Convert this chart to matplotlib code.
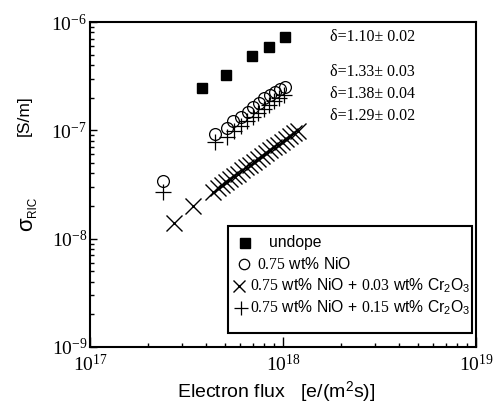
import matplotlib
matplotlib.use('Agg')
import numpy as np
import matplotlib.pyplot as plt
from matplotlib.ticker import LogLocator, FuncFormatter, NullFormatter
from matplotlib.patches import Rectangle
from matplotlib.lines import Line2D

plt.rcParams['font.family'] = ['Liberation Sans', 'DejaVu Sans']
plt.rcParams['mathtext.fontset'] = 'custom'
plt.rcParams['mathtext.rm'] = 'Liberation Serif'
plt.rcParams['mathtext.it'] = 'Liberation Serif:italic'
plt.rcParams['mathtext.sf'] = 'Liberation Sans'
plt.rcParams['mathtext.default'] = 'rm'

# ---- data ----
x_undope = [3.82e17, 5.07e17, 6.88e17, 8.43e17, 1.02e18]
y_undope = [2.44e-7, 3.24e-7, 4.85e-7, 5.91e-7, 7.31e-7]

x_nio = [2.39e17, 4.44e17, 5.11e17, 5.51e17, 6.06e17, 6.56e17, 7.02e17,
         7.51e17, 8.00e17, 8.57e17, 9.09e17, 9.65e17, 1.02e18]
y_nio = [3.40e-8, 9.34e-8, 1.05e-7, 1.21e-7, 1.34e-7, 1.49e-7, 1.65e-7,
         1.80e-7, 1.97e-7, 2.12e-7, 2.27e-7, 2.39e-7, 2.49e-7]

x_cr03 = [2.73e17, 3.43e17, 4.34e17, 4.61e17, 4.83e17, 5.07e17, 5.31e17,
          5.57e17, 5.84e17, 6.13e17, 6.43e17, 6.75e17, 7.08e17, 7.42e17,
          7.78e17, 8.16e17, 8.56e17, 8.98e17, 9.42e17, 9.88e17, 1.04e18,
          1.09e18, 1.14e18, 1.20e18]
y_cr03 = [1.40e-8, 1.99e-8, 2.69e-8, 2.93e-8, 3.13e-8, 3.33e-8, 3.55e-8,
          3.79e-8, 3.99e-8, 4.26e-8, 4.54e-8, 4.83e-8, 5.15e-8, 5.49e-8,
          5.79e-8, 6.17e-8, 6.58e-8, 7.01e-8, 7.39e-8, 7.88e-8, 8.40e-8,
          8.86e-8, 9.44e-8, 9.95e-8]

x_cr15 = [2.39e17, 4.44e17, 5.13e17, 5.57e17, 6.06e17, 6.51e17, 6.99e17,
          7.46e17, 7.97e17, 8.46e17, 8.98e17, 9.53e17, 1.01e18]
y_cr15 = [2.69e-8, 7.88e-8, 8.77e-8, 9.86e-8, 1.10e-7, 1.21e-7, 1.33e-7,
          1.45e-7, 1.57e-7, 1.71e-7, 1.85e-7, 1.97e-7, 2.10e-7]

labels = ['undope',
          '$0.75$ wt% NiO',
          '$0.75$ wt% NiO + $0.03$ wt% Cr$_{\\mathsf{2}}$O$_{\\mathsf{3}}$',
          '$0.75$ wt% NiO + $0.15$ wt% Cr$_{\\mathsf{2}}$O$_{\\mathsf{3}}$']
deltas = ['δ=1.10± 0.02', 'δ=1.33± 0.03', 'δ=1.38± 0.04', 'δ=1.29± 0.02']

W, H = 504, 412
fig = plt.figure(figsize=(W / 100, H / 100), dpi=100)
L, R, T, B = 90, 476, 22, 347
ax = fig.add_axes([L / W, 1 - B / H, (R - L) / W, (B - T) / H])
ax.set_xscale('log')
ax.set_yscale('log')
ax.set_xlim(1e17, 1e19)
ax.set_ylim(1e-9, 1e-6)

styles = [dict(marker='s', color='k', ms=7),
          dict(marker='o', mfc='none', mec='k', ms=8.5, mew=0.9),
          dict(marker='x', color='k', ms=11, mew=1.0),
          dict(marker='+', color='k', ms=11, mew=0.9)]
series = [(x_undope, y_undope), (x_nio, y_nio), (x_cr03, y_cr03), (x_cr15, y_cr15)]
for (xs, ys), st in zip(series, styles):
    ax.plot(xs, ys, ls='none', **st)

for s in ax.spines.values():
    s.set_linewidth(1.5)

ax.xaxis.set_major_locator(LogLocator(base=10, numticks=10))
ax.xaxis.set_minor_locator(LogLocator(base=10, subs=np.arange(2, 10), numticks=10))
ax.yaxis.set_major_locator(LogLocator(base=10, numticks=10))
ax.yaxis.set_minor_locator(LogLocator(base=10, subs=np.arange(2, 10), numticks=10))
fmt = FuncFormatter(lambda v, p: r'$10^{%d}$' % int(round(np.log10(v))))
ax.xaxis.set_major_formatter(fmt)
ax.yaxis.set_major_formatter(fmt)
ax.xaxis.set_minor_formatter(NullFormatter())
ax.yaxis.set_minor_formatter(NullFormatter())
ax.tick_params(which='both', direction='in', top=False, right=False, width=1.0)
ax.tick_params(axis='x', which='major', length=7, pad=5, labelsize=14)
ax.tick_params(axis='y', which='major', length=5, pad=2, labelsize=14)
ax.tick_params(which='minor', length=3)

def px(x, y):
    return x / W, 1 - y / H

fig.text(*px(276, 392), 'Electron flux   [e/(m$^{\\mathsf{2}}$s)]', fontsize=14,
         ha='center', va='center')
fig.text(*px(24, 116), '[S/m]', fontsize=12.5, rotation=90, ha='center', va='center')
fig.text(*px(33, 207), 'RIC', fontsize=8.5, rotation=90, ha='center', va='center')
fig.text(*px(27, 224), 'σ', fontsize=16, rotation=90, ha='center', va='center')

for d, yy in zip(deltas, [37, 72, 94, 116]):
    fig.text(*px(330, yy), d, fontsize=11.5, ha='left', va='center',
             family=['Liberation Serif', 'DejaVu Serif'])

# ---- legend box (hand-laid like the reference) ----
bx0, by0, bx1, by1 = 228, 226, 472, 333
fig.patches.append(Rectangle(px(bx0, by1), (bx1 - bx0) / W, (by1 - by0) / H,
                             transform=fig.transFigure, fill=True, fc='white',
                             ec='k', lw=1.5, zorder=5))
mark_pos = [(245, 243), (244, 264), (239, 286), (241, 308)]
text_x = [269, 257, 250, 250]
leg_styles = [dict(marker='s', color='k', ms=6.5),
              dict(marker='o', mfc='none', mec='k', ms=7.5, mew=0.9),
              dict(marker='x', color='k', ms=9, mew=1.0),
              dict(marker='+', color='k', ms=10, mew=0.9)]
for (mx, my), tx, lab, st in zip(mark_pos, text_x, labels, leg_styles):
    fx, fy = px(mx, my)
    fig.add_artist(Line2D([fx], [fy], transform=fig.transFigure, ls='none',
                          zorder=6, **st))
    fig.text(*px(tx, my), lab, fontsize=11.35, ha='left', va='center', zorder=6)

fig.savefig('out.png', dpi=100)
